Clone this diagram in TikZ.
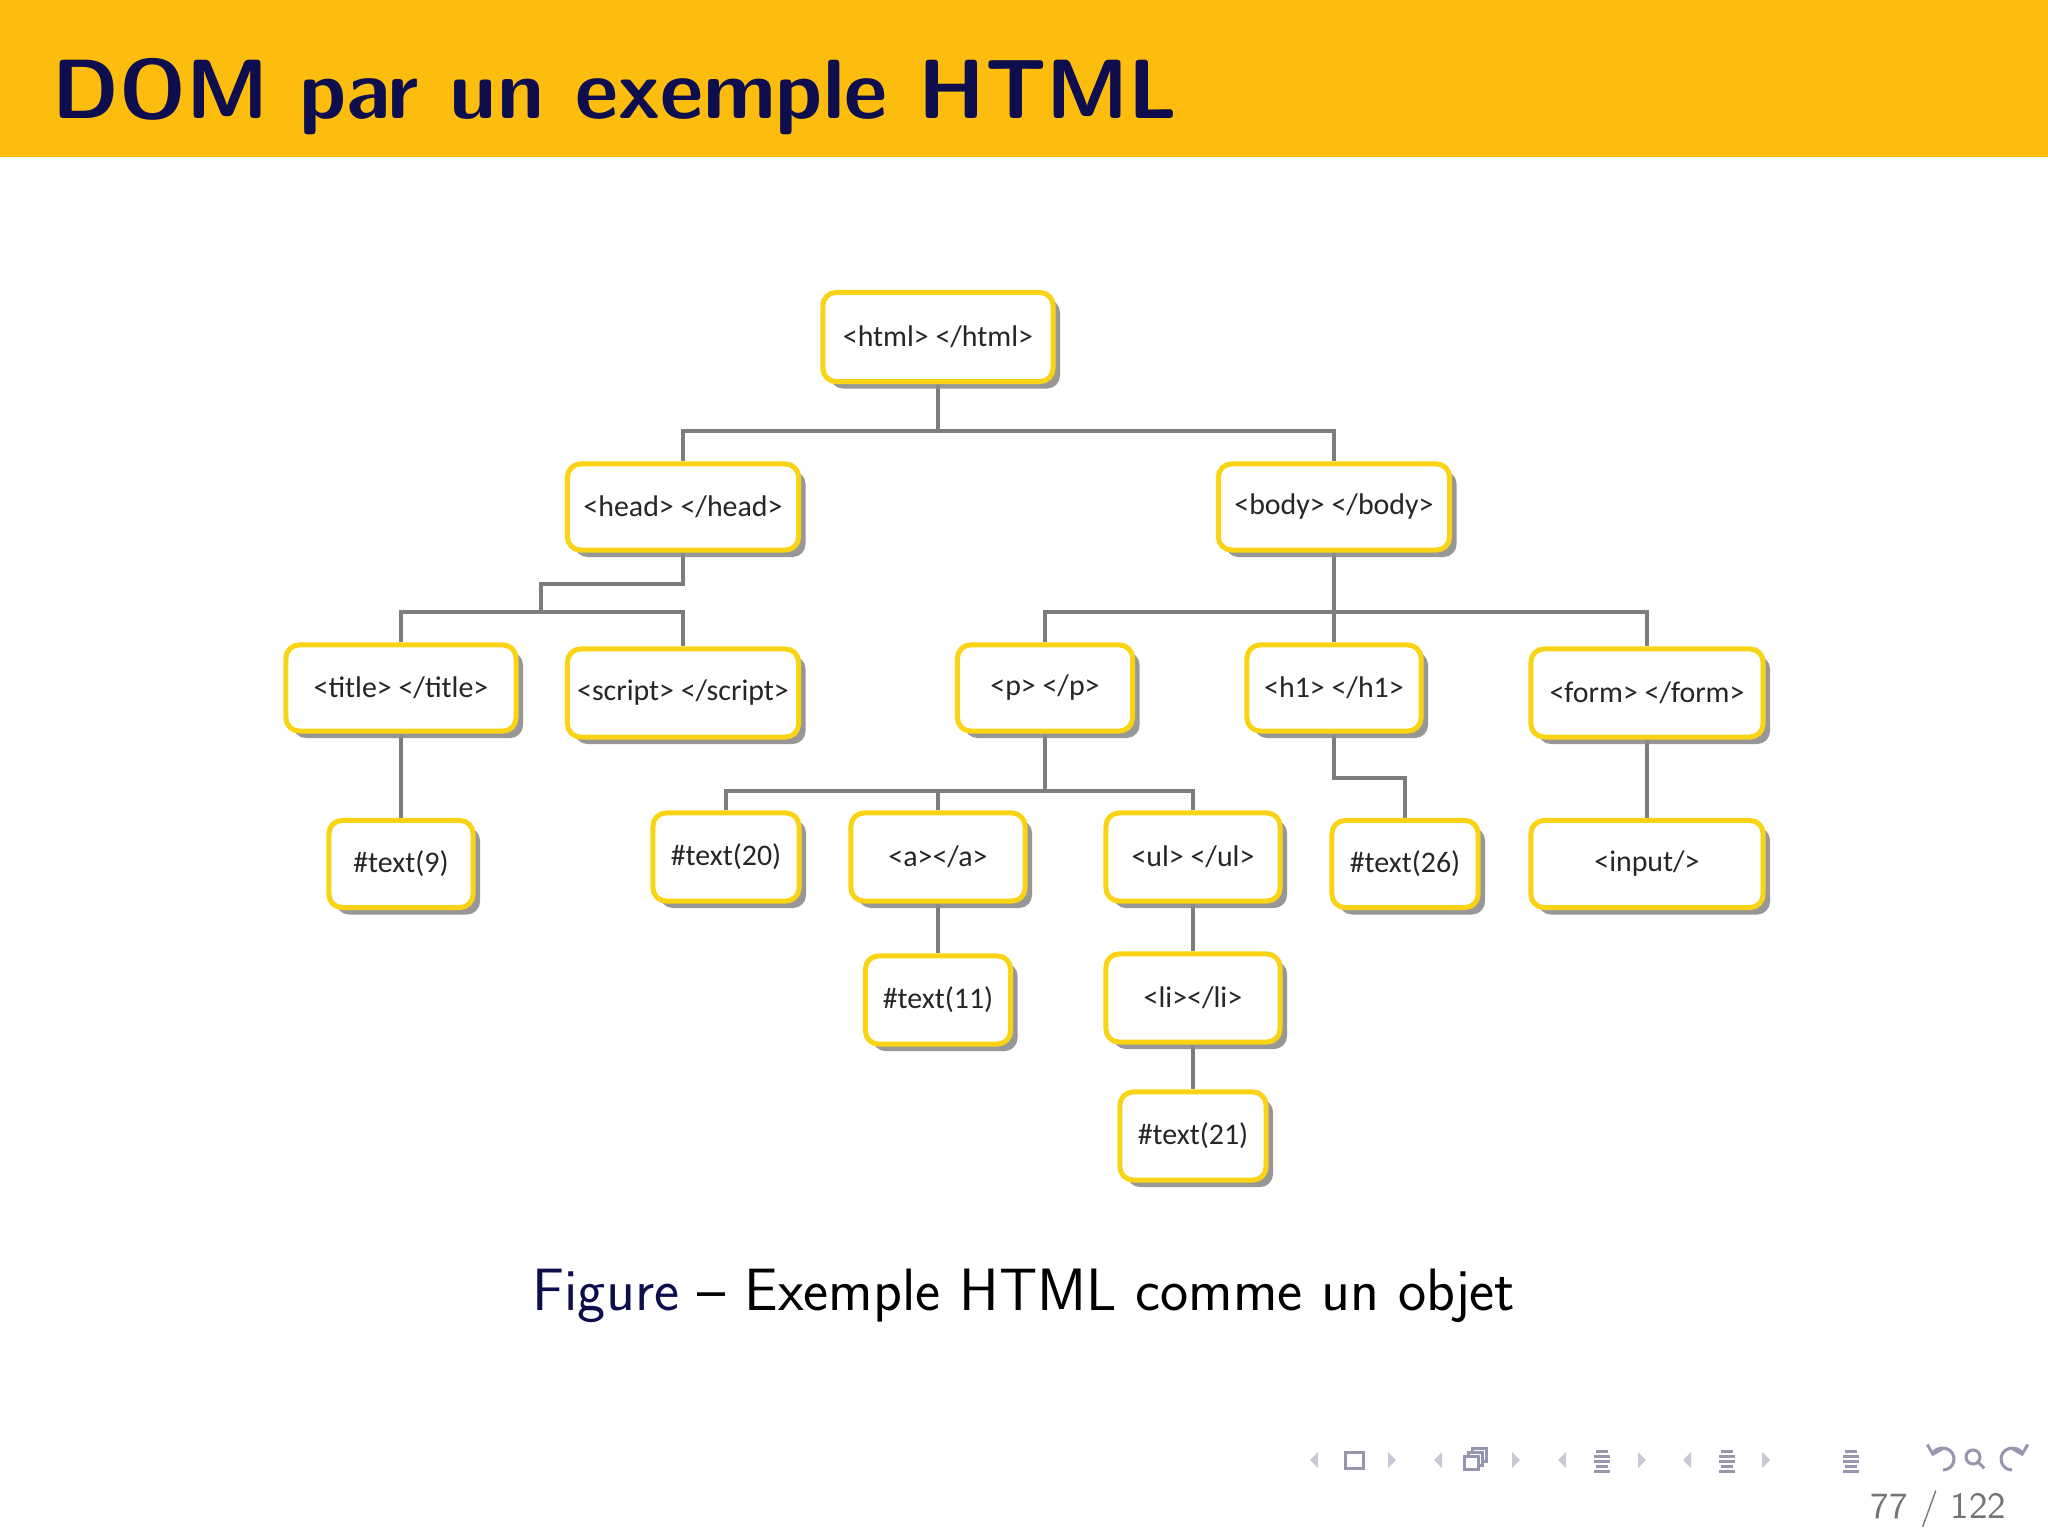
\documentclass[tikz,border=0pt]{standalone}
\usepackage{fontspec}
\newfontfamily\calib{Carlito}
\usetikzlibrary{shadows,backgrounds,arrows.meta}
\definecolor{hdr}{RGB}{253,189,14}
\definecolor{navy}{RGB}{14,14,78}
\definecolor{boxy}{RGB}{250,212,20}
\definecolor{conn}{RGB}{125,125,125}
\definecolor{navl}{RGB}{200,200,215}
\definecolor{navd}{RGB}{150,150,175}
\begin{document}
\begin{tikzpicture}[x=0.01cm,y=-0.01cm,
  dom/.style={draw=boxy, line width=0.05cm, fill=white, rounded corners=0.13cm,
    font=\calib\fontsize{8.5pt}{10pt}\selectfont, text=black!85, inner sep=0pt,
    drop shadow={shadow xshift=0.07cm, shadow yshift=-0.07cm, fill=black!45, opacity=0.9}},
  link/.style={draw=conn, line width=0.04cm},
  navtri/.style={fill=navl},
  navicon/.style={draw=navd, line width=0.03cm}]
\useasboundingbox (0,0) rectangle (2048,1536);
\begin{scope}[on background layer]
  \fill[white] (0,0) rectangle (2048,1536);
  \fill[hdr] (0,0) rectangle (2048,157);
\end{scope}
% title and caption
\node[anchor=base west, inner sep=0pt, text=navy, font=\sffamily\bfseries\fontsize{23.9pt}{28pt}\selectfont] (ttl) at (52,118) {DOM par un exemple HTML};
\node[anchor=base, inner sep=0pt, font=\sffamily\fontsize{17pt}{20pt}\selectfont] (cap) at (1024,1310) {\textcolor{navy}{Figure} -- Exemple HTML comme un objet};
\node[anchor=base east, inner sep=0pt, text=black!55, font=\sffamily\fontsize{10.5pt}{12pt}\selectfont] (pg) at (2007,1518) {77 / 122};
% nodes
\node[dom, minimum width=2.30cm, minimum height=0.89cm] (html) at (938,337) {<html> </html>};
\node[dom, minimum width=2.31cm, minimum height=0.86cm] (head) at (683,507) {<head> </head>};
\node[dom, minimum width=2.31cm, minimum height=0.86cm] (body) at (1334,507) {<body> </body>};
\node[dom, minimum width=2.30cm, minimum height=0.86cm] (title) at (401,688) {<title> </title>};
\node[dom, minimum width=2.31cm, minimum height=0.88cm] (script) at (683,693) {<script> </script>};
\node[dom, minimum width=1.75cm, minimum height=0.86cm] (p) at (1045,688) {<p> </p>};
\node[dom, minimum width=1.74cm, minimum height=0.86cm] (h1) at (1334,688) {<h1> </h1>};
\node[dom, minimum width=2.32cm, minimum height=0.88cm] (form) at (1647,693) {<form> </form>};
\node[dom, minimum width=1.44cm, minimum height=0.87cm] (t9) at (401,864) {\#text(9)};
\node[dom, minimum width=1.46cm, minimum height=0.88cm] (t20) at (726,857) {\#text(20)};
\node[dom, minimum width=1.74cm, minimum height=0.88cm] (a) at (938,857) {<a></a>};
\node[dom, minimum width=1.74cm, minimum height=0.88cm] (ul) at (1193,857) {<ul> </ul>};
\node[dom, minimum width=1.46cm, minimum height=0.87cm] (t26) at (1405,864) {\#text(26)};
\node[dom, minimum width=2.32cm, minimum height=0.87cm] (input) at (1647,864) {<input/>};
\node[dom, minimum width=1.45cm, minimum height=0.88cm] (t11) at (938,1000) {\#text(11)};
\node[dom, minimum width=1.74cm, minimum height=0.88cm] (li) at (1193,998) {<li></li>};
\node[dom, minimum width=1.46cm, minimum height=0.88cm] (t21) at (1193,1136) {\#text(21)};
% connector junctions
\coordinate (k0) at (938,431);
\coordinate (hk1) at (541,584);
\coordinate (hk2) at (541,612);
\coordinate (bk) at (1334,612);
\coordinate (pk) at (1045,791);
\coordinate (h1k) at (1405,778);
\begin{scope}[on background layer]
  \draw[link] (html.south) -- (k0);
  \draw[link] (head.north) |- (k0) -| (body.north);
  \draw[link] (head.south) |- (hk1) -- (hk2);
  \draw[link] (title.north) |- (hk2) -| (script.north);
  \draw[link] (body.south) -- (h1.north);
  \draw[link] (p.north) |- (bk) -| (form.north);
  \draw[link] (p.south) -- (pk);
  \draw[link] (t20.north) |- (pk) -| (ul.north);
  \draw[link] (a.north) -- (a.north |- pk);
  \draw[link] (h1.south) |- (h1k) -- (t26.north);
  \draw[link] (form.south) -- (input.north);
  \draw[link] (title.south) -- (t9.north);
  \draw[link] (a.south) -- (t11.north);
  \draw[link] (ul.south) -- (li.north);
  \draw[link] (li.south) -- (t21.north);
\end{scope}
% navigation symbols
\foreach \x in {1314,1438,1562,1687} {\fill[navtri] (\x+4,1452) -- (\x-4,1460) -- (\x+4,1468) -- cycle;}
\foreach \x in {1392,1516,1642,1766} {\fill[navtri] (\x-4,1452) -- (\x+4,1460) -- (\x-4,1468) -- cycle;}
\draw[navicon] (1345,1452) rectangle (1363,1468);
\draw[navicon, fill=white] (1472,1448) rectangle (1486,1461);
\draw[navicon, fill=white] (1468,1452) rectangle (1482,1465);
\draw[navicon, fill=white] (1464,1456) rectangle (1478,1469);
\foreach \cx in {1602,1727,1851} {
  \fill[navd] (\cx-6,1450) rectangle (\cx+6,1452.5);
  \fill[navd] (\cx-8,1455) rectangle (\cx+8,1457.5);
  \fill[navd] (\cx-8,1460) rectangle (\cx+8,1462.5);
  \fill[navd] (\cx-6,1465) rectangle (\cx+6,1467.5);
  \fill[navd] (\cx-8,1470) rectangle (\cx+8,1472.5);
}
\coordinate (undoc) at (1943,1459);
\coordinate (srchc) at (1973,1457);
\coordinate (redoc) at (2012,1459);
\draw[navicon, {Straight Barb[length=2.2pt,width=4.5pt]}-] (undoc) ++(195:11) arc (195:450:11);
\draw[navicon] (srchc) circle (7);
\draw[navicon] (srchc) ++(45:7) -- ++(45:9);
\draw[navicon, {Straight Barb[length=2.2pt,width=4.5pt]}-] (redoc) ++(-15:11) arc (-15:-270:11);
\end{tikzpicture}
\end{document}
